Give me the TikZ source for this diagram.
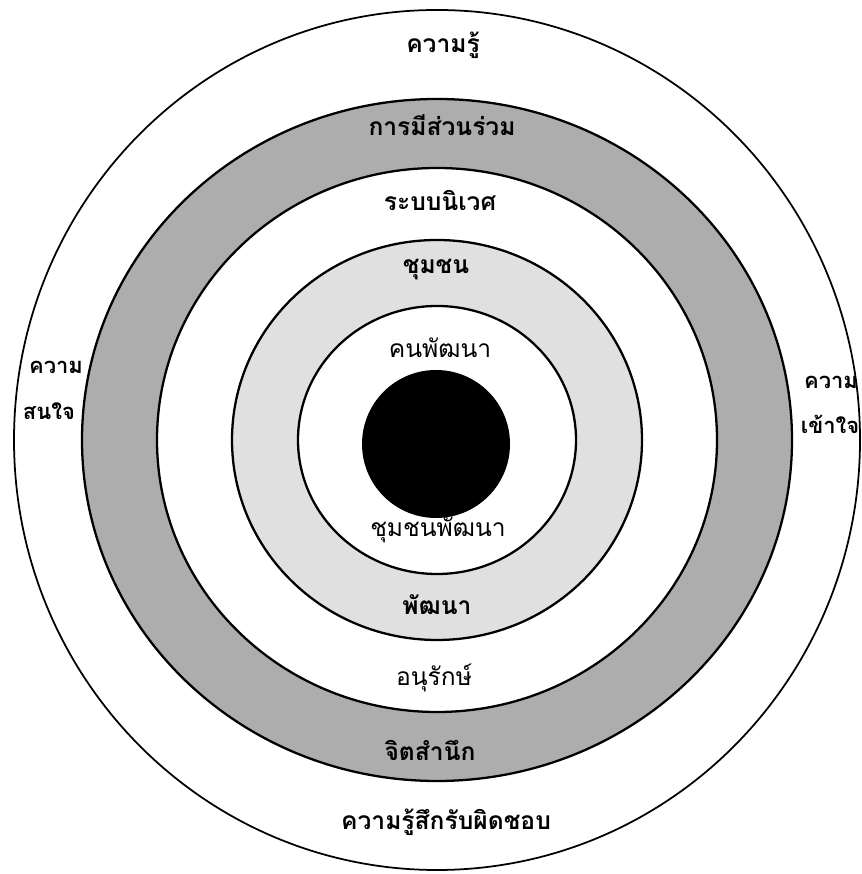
\documentclass[tikz,border=0pt]{standalone}
\usepackage{fontspec}
\newfontfamily\thaifont[Script=Thai]{Loma}
\usetikzlibrary{positioning}
\tikzset{
  ring/.style = {draw=black, line width=1.3pt},
  darkring/.style = {ring, fill=black!32},
  lightring/.style = {ring, fill=black!12},
  plainring/.style = {ring, fill=white},
  label/.style = {font=\thaifont\fontsize{14}{17}\selectfont, inner sep=1pt},
  boldlabel/.style = {label, font=\thaifont\bfseries\fontsize{14}{17}\selectfont},
  sidelabel/.style = {label, font=\thaifont\bfseries\fontsize{12.5}{15}\selectfont}
}

\begin{document}
\begin{tikzpicture}[x=0.02cm, y=0.02cm]

\useasboundingbox (0,0) rectangle (861,874);

% Rings, outside in
\coordinate (mid) at (437,434);
\draw[plainring, line width=1pt] (mid) ellipse [x radius=423, y radius=430];
\draw[darkring] (mid) ellipse [x radius=355, y radius=341];
\draw[plainring] (mid) ellipse [x radius=280, y radius=272];
\draw[lightring] (mid) ellipse [x radius=205, y radius=200];
\draw[plainring] (mid) ellipse [x radius=139, y radius=134];
\fill[black] (436,430) circle [radius=74];

% Top labels
\node[boldlabel] (knowledge) at (443,829) {ความรู้};
\node[boldlabel] (participation) at (442,749) {การมีส่วนร่วม};
\node[boldlabel] (ecosystem) at (440,674) {ระบบนิเวศ};
\node[boldlabel] (community) at (436,604) {ชุมชน};
\node[label] (people) at (440,526) {คนพัฒนา};

% Bottom labels
\node[label] (devcommunity) at (438,344) {ชุมชนพัฒนา};
\node[boldlabel] (develop) at (437,269) {พัฒนา};
\node[label] (conserve) at (434,196) {อนุรักษ์};
\node[boldlabel] (awareness) at (430,124) {จิตสำนึก};
\node[boldlabel] (responsibility) at (446,52) {ความรู้สึกรับผิดชอบ};

% Side labels
\node[sidelabel] (interestA) at (56,507) {ความ};
\node[sidelabel] (interestB) at (49,463) {สนใจ};
\node[sidelabel] (understandA) at (831,492) {ความ};
\node[sidelabel] (understandB) at (830,450) {เข้าใจ};

\end{tikzpicture}
\end{document}
